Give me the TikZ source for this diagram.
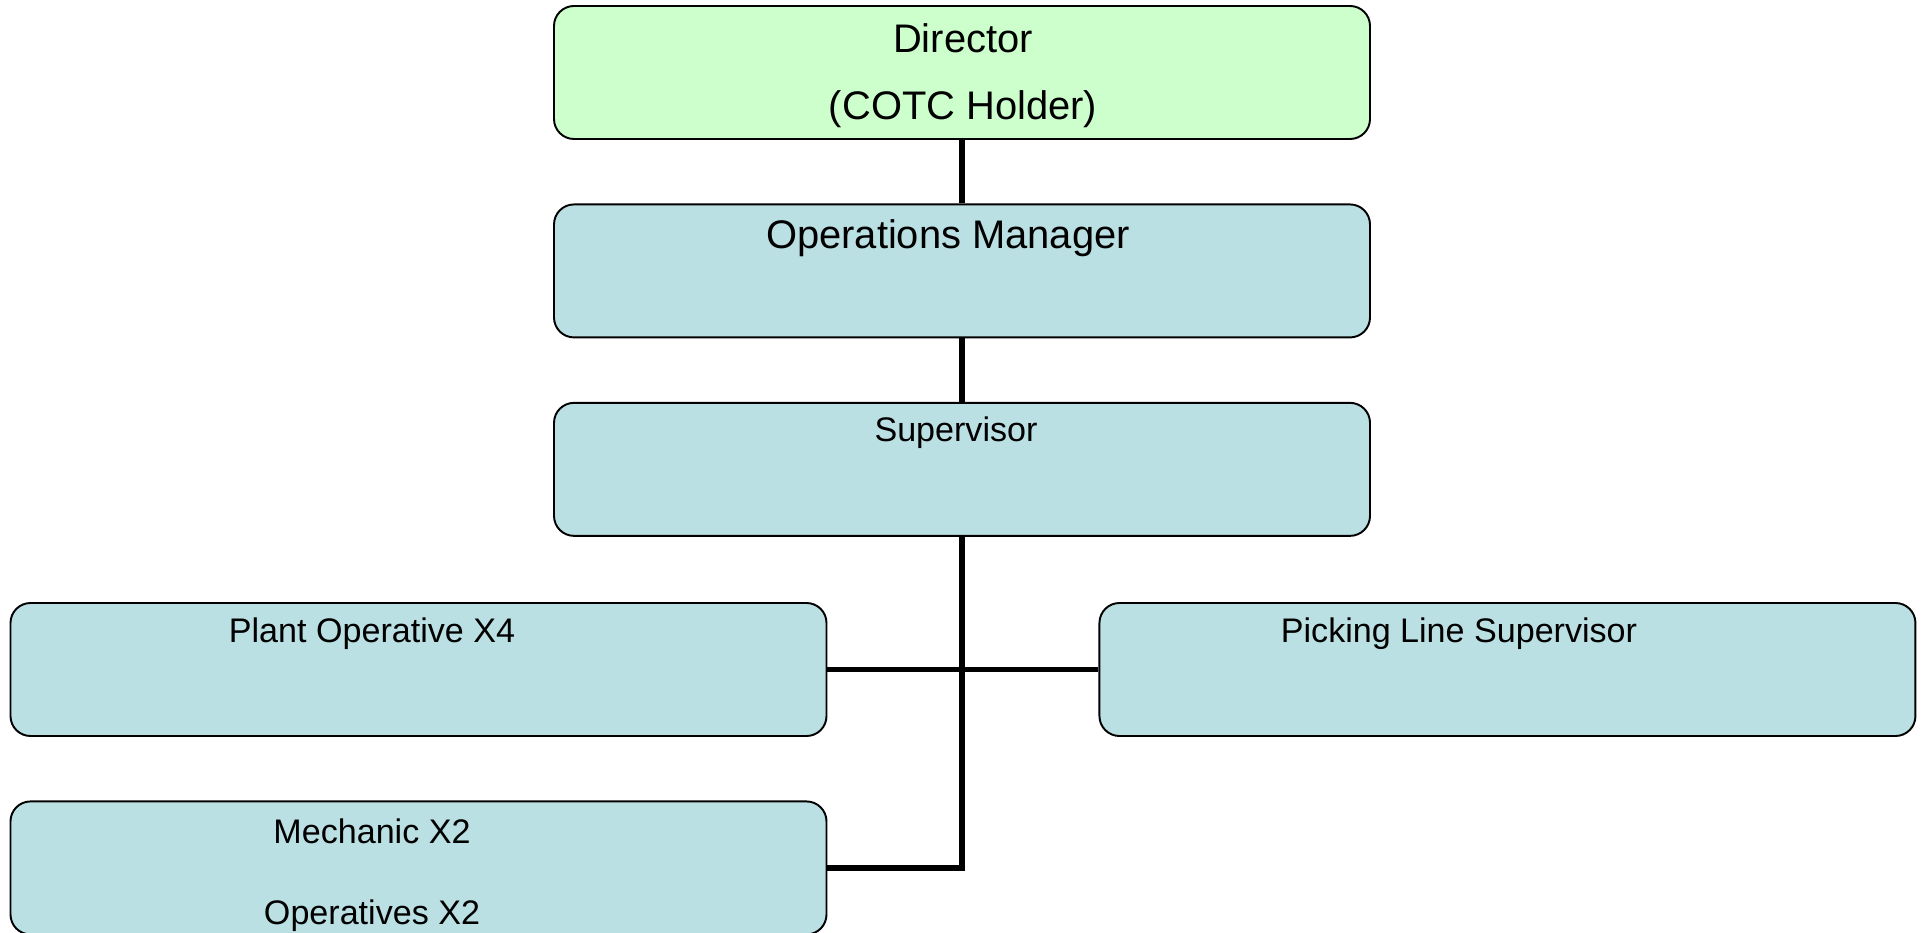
\documentclass[tikz,border=0pt]{standalone}
\usepackage{fontspec}
\setmainfont{Liberation Sans}
\usetikzlibrary{positioning}
\definecolor{boxgreen}{HTML}{CCFFCC}
\definecolor{boxblue}{HTML}{BBE0E3}

\begin{document}
\begin{tikzpicture}[node distance=1.27cm,
    role/.style={draw, rounded corners=0.4cm, line width=1.1pt, fill=boxblue, minimum width=16.32cm, minimum height=2.66cm},
    link/.style={line width=3.4pt},
    bigtext/.style={font=\fontsize{22.7}{38}\selectfont, align=center},
    smalltext/.style={font=\fontsize{19.4}{46}\selectfont, align=center}]
        \useasboundingbox (0,0) rectangle (38.46,-18.66);

        % Draw the blocks
        \node (director) [role, fill=boxgreen] at (19.24,-1.45) {};
        \node (opsman)   [role, below=of director] {};
        \node (super)    [role, below=of opsman] {};
        \node (plant)    [role] at (8.37,-13.39) {};
        \node (picking)  [role, right=5.42cm of plant] {};
        \node (mech)     [role, below=of plant] {};

        % Texts in the blocks
        \node (dirtext)   [bigtext] at (19.26,-1.51) {Director\\(COTC Holder)};
        \node (opstext)   [bigtext] at (18.96,-4.76) {Operations Manager};
        \node (suptext)   [smalltext] at (19.12,-8.66) {Supervisor};
        \node (planttext) [smalltext] at (7.44,-12.68) {Plant Operative X4};
        \node (picktext)  [smalltext] at (29.18,-12.68) {Picking Line Supervisor};
        \node (mechtext)  [smalltext] at (7.44,-17.50) {Mechanic X2\\Operatives X2};

        % Draw the connecting lines
        \draw [link] (director) -- (opsman);
        \draw [link] (opsman) -- (super);
        \draw [link] (plant) -- (picking);
        \draw [link] (super.south) -- (super.south |- mech.east) -- (mech.east);
    \end{tikzpicture}
\end{document}
